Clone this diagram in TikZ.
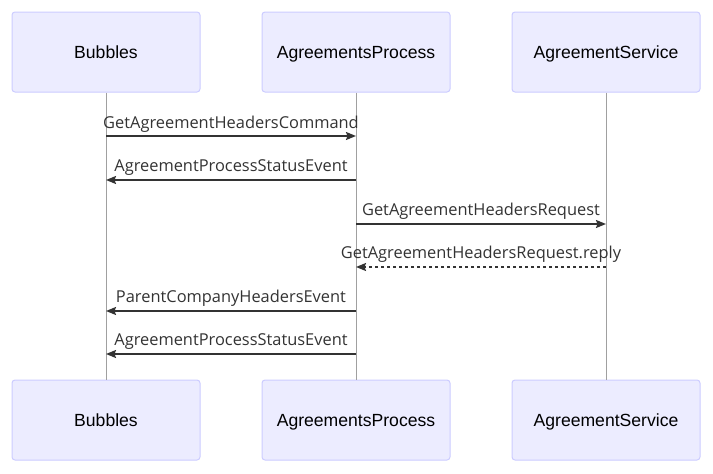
\documentclass[tikz,border=0pt]{standalone}
\usepackage{fontspec}
\setmainfont{Liberation Sans}
\newfontfamily\msgfont{Open Sans}
\usetikzlibrary{arrows.meta}
\definecolor{actorfill}{HTML}{ECECFF}
\definecolor{actorborder}{HTML}{CCCCFF}
\definecolor{lifegray}{HTML}{A0A0A0}
\definecolor{msgcol}{HTML}{333333}
\begin{document}
\begin{tikzpicture}[x=1pt,y=-1pt,
  actor/.style={draw=actorborder, fill=actorfill, rounded corners=3pt, minimum width=188pt, minimum height=80pt, line width=1pt, font=\fontsize{17.6}{20}\selectfont, text=black, inner sep=0pt, text height=12.7pt, text depth=0pt},
  life/.style={draw=lifegray, line width=0.8pt},
  msg/.style={draw=msgcol, line width=1.6pt, -{Stealth[length=10pt,width=8pt,inset=1.5pt]}},
  reply/.style={msg, dash pattern=on 3pt off 3pt},
  lbl/.style={font=\msgfont\fontsize{16.4}{19}\selectfont, text=msgcol, anchor=base, inner sep=0pt}]
\useasboundingbox (0,0) rectangle (713,474);
% actors
\node[actor] (t1) at (106,52) {Bubbles};
\node[actor] (t2) at (356,52) {AgreementsProcess};
\node[actor] (t3) at (606,52) {AgreementService};
\node[actor] (b1) at (106,420) {Bubbles};
\node[actor] (b2) at (356,420) {AgreementsProcess};
\node[actor] (b3) at (606,420) {AgreementService};
% lifelines
\draw[life] (t1.south) -- (b1.north);
\draw[life] (t2.south) -- (b2.north);
\draw[life] (t3.south) -- (b3.north);
% message end points
\coordinate (m1a) at (106,136); \coordinate (m1b) at (356,136);
\coordinate (m2a) at (356,180); \coordinate (m2b) at (106,180);
\coordinate (m3a) at (356,224); \coordinate (m3b) at (606,224);
\coordinate (m4a) at (606,267); \coordinate (m4b) at (356,267);
\coordinate (m5a) at (356,311); \coordinate (m5b) at (106,311);
\coordinate (m6a) at (356,354); \coordinate (m6b) at (106,354);
% messages
\draw[msg] (m1a) -- (m1b);
\draw[msg] (m2a) -- (m2b);
\draw[msg] (m3a) -- (m3b);
\draw[reply] (m4a) -- (m4b);
\draw[msg] (m5a) -- (m5b);
\draw[msg] (m6a) -- (m6b);
% labels
\node[lbl] (l1) at (231,128) {GetAgreementHeadersCommand};
\node[lbl] (l2) at (231,171) {AgreementProcessStatusEvent};
\node[lbl] (l3) at (481,215) {GetAgreementHeadersRequest};
\node[lbl] (l4) at (481,258) {GetAgreementHeadersRequest.reply};
\node[lbl] (l5) at (231,302) {ParentCompanyHeadersEvent};
\node[lbl] (l6) at (231,345) {AgreementProcessStatusEvent};
\end{tikzpicture}
\end{document}
